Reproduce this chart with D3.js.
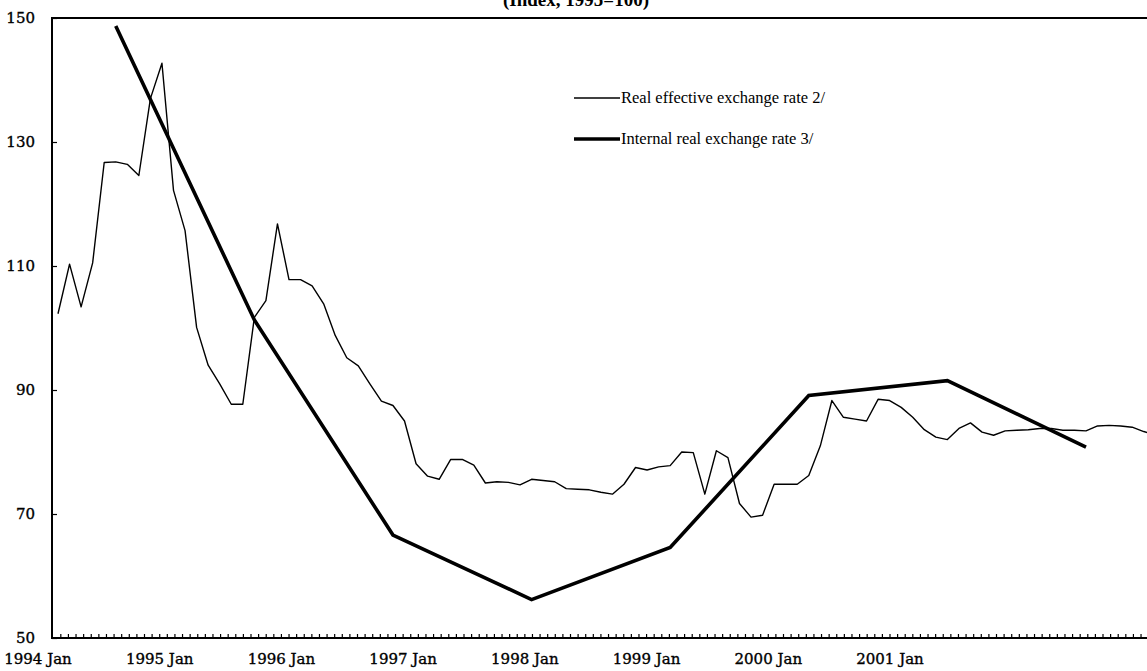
<!DOCTYPE html>
<html>
<head>
<meta charset="utf-8">
<script src="https://cdn.jsdelivr.net/npm/d3@7"></script>
<style>
  html, body { margin: 0; padding: 0; background: #fff; }
  svg { display: block; }
</style>
</head>
<body>
<svg id="chart" width="1147" height="671"></svg>
<script>
// ---- Data ----
const titleText = "(Index, 1995=100)";
const reerName = "Real effective exchange rate 2/";
const internalName = "Internal real exchange rate 3/";

// Monthly REER, 1994 Jan .. 2001 Dec (index 0..95)
const reerValues = [
  102.3, 110.3, 103.4, 110.5, 126.7, 126.8, 126.4, 124.6, 137.0, 142.7, 122.2, 115.7,
  100.1,  94.0,  91.0,  87.7,  87.7, 101.7, 104.4, 116.8, 107.8, 107.8, 106.8, 103.9,
   98.8,  95.2,  93.9,  91.0,  88.2,  87.5,  85.0,  78.1,  76.1,  75.6,  78.8,  78.8,
   77.9,  75.0,  75.2,  75.1,  74.7,  75.6,  75.4,  75.2,  74.1,  74.0,  73.9,  73.5,
   73.2,  74.8,  77.5,  77.1,  77.6,  77.8,  80.0,  79.9,  73.2,  80.2,  79.1,  71.7,
   69.5,  69.8,  74.8,  74.8,  74.8,  76.2,  81.0,  88.3,  85.6,  85.3,  85.0,  88.5,
   88.3,  87.2,  85.6,  83.6,  82.4,  82.0,  83.8,  84.7,  83.2,  82.7,  83.4,  83.5,
   83.6,  83.8,  83.8,  83.5,  83.5,  83.4,  84.2,  84.3,  84.2,  84.0,  83.3,  82.8
];

// Internal real exchange rate, one observation per year (placed at June)
const internalYears  = [1994, 1995, 1996, 1997, 1998, 1999, 2000, 2001];
const internalValues = [148.7, 101.3, 66.6, 56.2, 64.6, 89.1, 91.5, 80.8];

const yTicks = [50, 70, 90, 110, 130, 150];
const xLabelYears = [1994, 1995, 1996, 1997, 1998, 1999, 2000, 2001];
const xLabelSuffix = " Jan";

// ---- Layout ----
const W = 1147, H = 671;
const mLeft = 52, mRight = 1147, mTop = 18, mBottom = 638;

const svg = d3.select("#chart");

// month index scale for the plotted series
const x = d3.scaleLinear().domain([0, 95]).range([58, 1155.3]);
// category-axis label scale (labels of the printed axis)
const xLab = d3.scaleLinear().domain([1994, 2001]).range([38, 890]);
const y = d3.scaleLinear().domain([50, 150]).range([mBottom, mTop]);

const serifAxis = "'DejaVu Serif', serif";
const serifText = "'Liberation Serif', 'Times New Roman', serif";

// Title (mostly cut off at the top, as in the source)
svg.append("text")
  .attr("x", 576).attr("y", 6)
  .attr("text-anchor", "middle")
  .attr("font-family", serifText)
  .attr("font-size", 19)
  .attr("font-weight", "bold")
  .text(titleText);

// clip for plotted lines
svg.append("clipPath").attr("id", "clip")
  .append("rect").attr("x", mLeft).attr("y", 0).attr("width", mRight - mLeft).attr("height", H);

// Frame: top border, left axis, bottom axis
svg.append("line").attr("x1", mLeft).attr("x2", mRight).attr("y1", mTop).attr("y2", mTop)
  .attr("stroke", "#000").attr("stroke-width", 2);
svg.append("line").attr("x1", mLeft).attr("x2", mLeft).attr("y1", mTop - 1).attr("y2", mBottom + 1)
  .attr("stroke", "#000").attr("stroke-width", 2);
svg.append("line").attr("x1", mLeft).attr("x2", mRight).attr("y1", mBottom).attr("y2", mBottom)
  .attr("stroke", "#000").attr("stroke-width", 2);

// Y axis ticks & labels
const yAxis = d3.axisLeft(y).tickValues(yTicks).tickSize(-5).tickPadding(17).tickFormat(d3.format("d"));
const gy = svg.append("g").attr("transform", `translate(${mLeft},0)`).call(yAxis);
gy.select(".domain").remove();
gy.selectAll("line").attr("stroke", "#000").attr("stroke-width", 1.2);
gy.selectAll("text")
  .attr("font-family", serifAxis).attr("font-size", 15).attr("fill", "#000")
  .attr("stroke", "#000").attr("stroke-width", 0.35);

// X axis minor ticks (16 per label interval)
const minorTicks = d3.range(0, 200).map(i => 1994 + (2 + i) / 16).filter(v => xLab(v) > mLeft + 2 && xLab(v) < mRight);
svg.append("g").selectAll("line").data(minorTicks).join("line")
  .attr("x1", d => xLab(d)).attr("x2", d => xLab(d))
  .attr("y1", mBottom).attr("y2", mBottom - 4)
  .attr("stroke", "#000").attr("stroke-width", 1.2);

// X labels
svg.append("g").selectAll("text").data(xLabelYears).join("text")
  .attr("x", d => xLab(d)).attr("y", 664)
  .attr("text-anchor", "middle")
  .attr("font-family", serifAxis).attr("font-size", 15).attr("fill", "#000")
  .attr("stroke", "#000").attr("stroke-width", 0.35)
  .text(d => d + xLabelSuffix);

// Lines
const plot = svg.append("g").attr("clip-path", "url(#clip)");

const reerLine = d3.line().x((d, i) => x(i)).y(d => y(d));
plot.append("path").datum(reerValues)
  .attr("d", reerLine)
  .attr("fill", "none").attr("stroke", "#000").attr("stroke-width", 1.4)
  .attr("stroke-linejoin", "round");

const internalLine = d3.line()
  .x((d, i) => x((internalYears[i] - 1994) * 12 + 5))
  .y(d => y(d));
plot.append("path").datum(internalValues)
  .attr("d", internalLine)
  .attr("fill", "none").attr("stroke", "#000").attr("stroke-width", 3.6)
  .attr("stroke-linejoin", "miter");

// Legend
const legend = svg.append("g");
const legendItems = [
  { name: reerName, w: 1.4, y: 98 },
  { name: internalName, w: 3.6, y: 139 }
];
legendItems.forEach(it => {
  legend.append("line").attr("x1", 574).attr("x2", 620).attr("y1", it.y).attr("y2", it.y)
    .attr("stroke", "#000").attr("stroke-width", it.w);
  legend.append("text").attr("x", 621).attr("y", it.y + 5)
    .attr("font-family", serifText).attr("font-size", 16.5).attr("fill", "#000")
    .text(it.name);
});
</script>
</body>
</html>
